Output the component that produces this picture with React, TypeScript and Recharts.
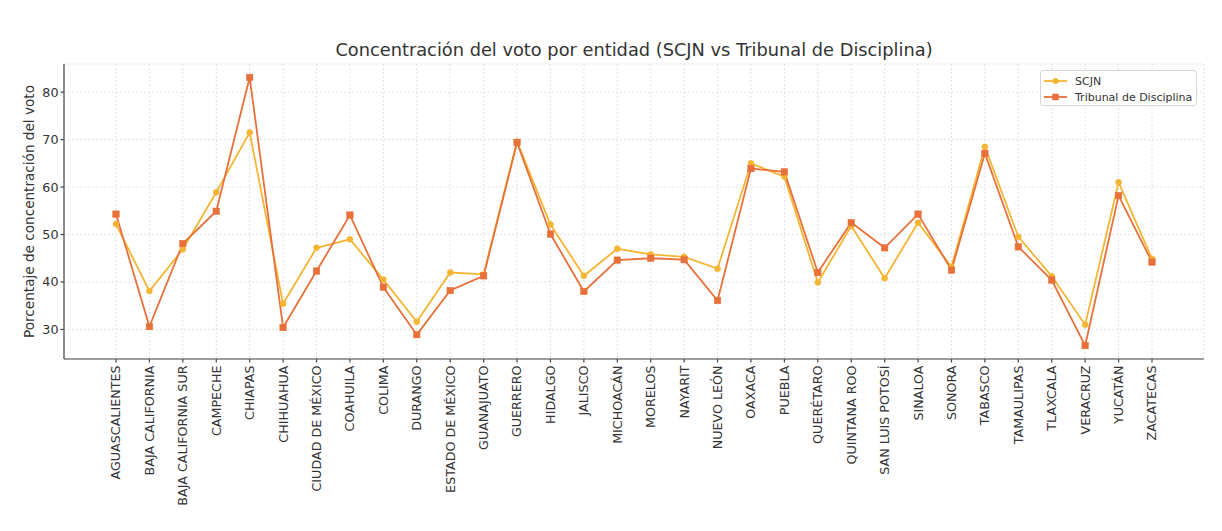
import React from "react";
import {
  LineChart,
  Line,
  XAxis,
  YAxis,
  CartesianGrid,
  Legend,
} from "recharts";

const estados = [
  "AGUASCALIENTES", "BAJA CALIFORNIA", "BAJA CALIFORNIA SUR", "CAMPECHE", "CHIAPAS",
  "CHIHUAHUA", "CIUDAD DE MÉXICO", "COAHUILA", "COLIMA", "DURANGO",
  "ESTADO DE MÉXICO", "GUANAJUATO", "GUERRERO", "HIDALGO", "JALISCO",
  "MICHOACÁN", "MORELOS", "NAYARIT", "NUEVO LEÓN", "OAXACA",
  "PUEBLA", "QUERÉTARO", "QUINTANA ROO", "SAN LUIS POTOSÍ", "SINALOA",
  "SONORA", "TABASCO", "TAMAULIPAS", "TLAXCALA", "VERACRUZ",
  "YUCATÁN", "ZACATECAS",
];

const scjn = [
  52.2, 38.1, 46.9, 58.9, 71.5, 35.4, 47.2, 49.0, 40.5, 31.6,
  42.0, 41.6, 69.6, 52.1, 41.3, 47.0, 45.8, 45.3, 42.8, 65.0,
  62.2, 39.9, 51.8, 40.8, 52.5, 43.2, 68.5, 49.5, 41.2, 31.0,
  61.0, 44.9,
];

const tribunal = [
  54.3, 30.6, 48.1, 54.9, 83.1, 30.4, 42.3, 54.1, 38.9, 28.9,
  38.2, 41.3, 69.4, 50.1, 38.0, 44.6, 45.0, 44.7, 36.1, 63.9,
  63.2, 42.0, 52.5, 47.2, 54.3, 42.5, 67.1, 47.4, 40.4, 26.6,
  58.2, 44.2,
];

const yTicks = [30, 40, 50, 60, 70, 80];

const seriesNames = ["SCJN", "Tribunal de Disciplina"];
const seriesColors = ["#f5b533", "#e8703a"];

const data = estados.map((e, i) => ({
  estado: e,
  scjn: scjn[i],
  tribunal: tribunal[i],
}));

const FONT = "'DejaVu Sans', sans-serif";

const XTick = (props: any) => {
  const { x, y, payload } = props;
  return (
    <g transform={`translate(${x},${y})`}>
      <text
        transform="rotate(-90)"
        textAnchor="end"
        dy="0.35em"
        x={0}
        y={0}
        fill="#333"
        fontSize={12.7}
        fontFamily={FONT}
      >
        {payload.value}
      </text>
    </g>
  );
};

const SquareDot = (props: any) => {
  const { cx, cy, index } = props;
  if (cx == null || cy == null) return <g key={`sq-${index}`} />;
  const s = 6.5;
  return (
    <rect
      key={`sq-${index}`}
      x={cx - s / 2}
      y={cy - s / 2}
      width={s}
      height={s}
      fill={seriesColors[1]}
      stroke={seriesColors[1]}
      strokeWidth={0.5}
    />
  );
};

const LegendContent = () => (
  <div
    style={{
      width: 157,
      height: 36,
      border: "1px solid #d6d6d6",
      borderRadius: 3,
      background: "rgba(255,255,255,0.85)",
      boxSizing: "border-box",
      fontFamily: FONT,
      fontSize: 11,
      color: "#333",
      padding: "2px 0 0 0",
    }}
  >
    {seriesNames.map((n, i) => (
      <div
        key={n}
        style={{ display: "flex", alignItems: "center", height: 16 }}
      >
        <svg width={34} height={16} style={{ flex: "none" }}>
          <line
            x1={3}
            x2={26}
            y1={8}
            y2={8}
            stroke={seriesColors[i]}
            strokeWidth={1.8}
          />
          {i === 0 ? (
            <circle cx={14.5} cy={8} r={3} fill={seriesColors[i]} />
          ) : (
            <rect x={11.25} y={4.75} width={6.5} height={6.5} fill={seriesColors[i]} />
          )}
        </svg>
        <span style={{ whiteSpace: "nowrap" }}>{n}</span>
      </div>
    ))}
  </div>
);

export default function App() {
  return (
    <div
      style={{
        position: "absolute",
        left: 0,
        top: 0,
        width: 1222,
        height: 531,
        background: "#fff",
      }}
    >
      <div
        style={{
          position: "absolute",
          left: 0,
          right: 0,
          top: 39,
          textAlign: "center",
          paddingLeft: 46,
          fontFamily: FONT,
          fontSize: 17.8,
          color: "#333",
          pointerEvents: "none",
          zIndex: 2,
        }}
      >
        Concentración del voto por entidad (SCJN vs Tribunal de Disciplina)
      </div>
      <LineChart
        width={1222}
        height={531}
        data={data}
        margin={{ top: 64, right: 18, left: 0, bottom: 0 }}
      >
        <CartesianGrid
          stroke="#d9d9d9"
          strokeDasharray="2 2"
          strokeWidth={0.8}
        />
        <XAxis
          dataKey="estado"
          type="category"
          scale="point"
          padding={{ left: 52, right: 52 }}
          height={172}
          interval={0}
          tick={<XTick />}
          tickSize={3.5}
          tickMargin={3}
          stroke="#444"
          strokeWidth={1.2}
        />
        <YAxis
          type="number"
          domain={[23.77, 85.93]}
          ticks={yTicks}
          allowDataOverflow
          width={64}
          tickSize={3.5}
          tickMargin={2}
          stroke="#444"
          strokeWidth={1.2}
          tick={{ fill: "#333", fontSize: 12.7, fontFamily: FONT }}
          label={{
            value: "Porcentaje de concentración del voto",
            angle: -90,
            position: "insideLeft",
            offset: 0,
            dx: 29,
            style: {
              textAnchor: "middle",
              fill: "#333",
              fontSize: 13.6,
              fontFamily: FONT,
            },
          }}
        />
        <Legend
          layout="horizontal"
          verticalAlign="middle"
          align="center"
          content={<LegendContent />}
          wrapperStyle={{ left: 1040, top: 70, width: 157, height: 36 }}
        />
        <Line
          type="linear"
          dataKey="scjn"
          name={seriesNames[0]}
          stroke={seriesColors[0]}
          strokeWidth={1.8}
          dot={{ r: 3, fill: seriesColors[0], stroke: seriesColors[0], strokeWidth: 0.5 }}
          activeDot={false}
          isAnimationActive={false}
        />
        <Line
          type="linear"
          dataKey="tribunal"
          name={seriesNames[1]}
          stroke={seriesColors[1]}
          strokeWidth={1.8}
          dot={<SquareDot />}
          activeDot={false}
          isAnimationActive={false}
        />
      </LineChart>
    </div>
  );
}
